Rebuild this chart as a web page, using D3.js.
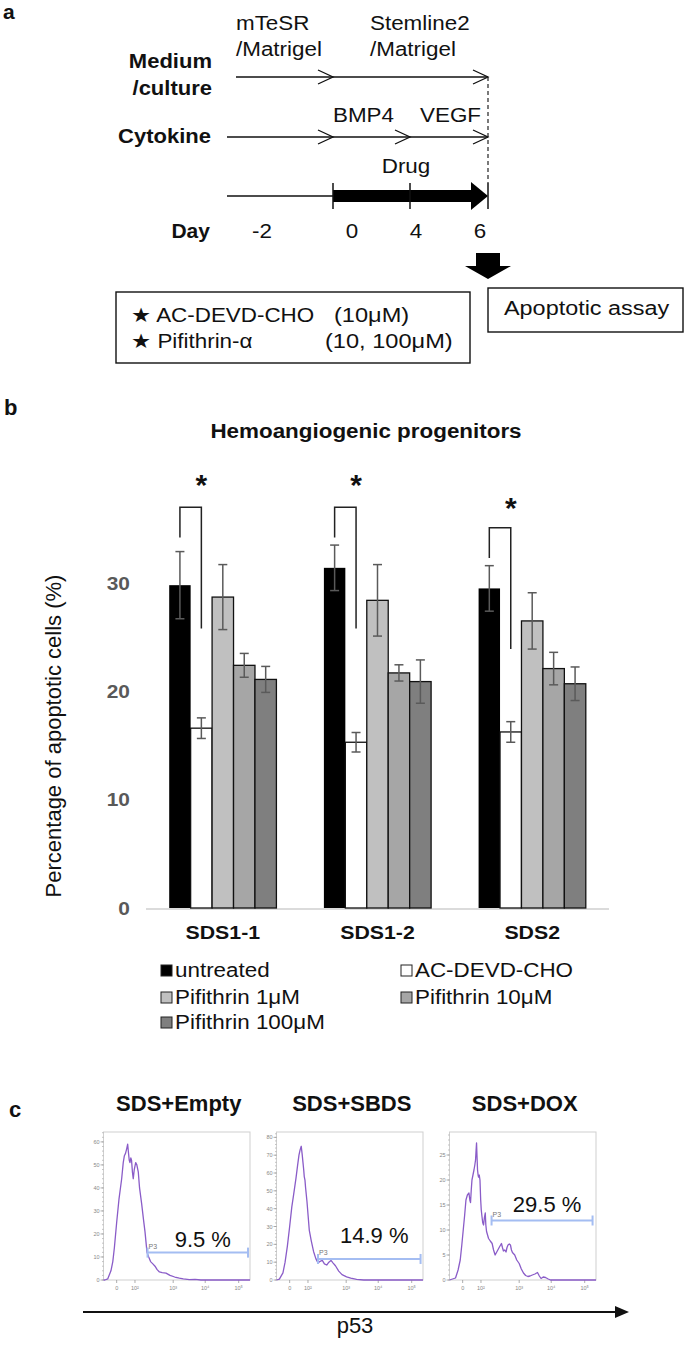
<!DOCTYPE html>
<html><head><meta charset="utf-8">
<script src="https://cdn.jsdelivr.net/npm/d3@7"></script>
<style>
body{margin:0;background:#fff}
svg{display:block}
text{font-family:"Liberation Sans",Arial,Helvetica,sans-serif}
</style>
</head><body>
<svg id="fig" width="685" height="1345"></svg>
<script>
// ================= DATA =================
// Panel a (protocol timeline)
const mediumLabels = [["mTeSR","/Matrigel"],["Stemline2","/Matrigel"]];
const cytokineLabels = ["BMP4","VEGF"];
const timelineDays = ["-2","0","4","6"];
const drugCompounds = [["★ AC-DEVD-CHO","(10μM)"],["★ Pifithrin-α","(10, 100μM)"]];
const assayLabel = "Apoptotic assay";

// Panel b (bar chart)
const categories = ["SDS1-1","SDS1-2","SDS2"];
const seriesNames = ["untreated","AC-DEVD-CHO","Pifithrin 1μM","Pifithrin 10μM","Pifithrin 100μM"];
const seriesColors = ["#000000","#ffffff","#c0c0c0","#a6a6a6","#7f7f7f"];
const untreated    = [29.8, 31.4, 29.5];
const untreatedErr = [3.1, 2.1, 2.1];
const acDevd       = [16.6, 15.3, 16.25];
const acDevdErr    = [0.95, 0.9, 0.95];
const pif1         = [28.7, 28.4, 26.5];
const pif1Err      = [3.0, 3.3, 2.6];
const pif10        = [22.4, 21.7, 22.1];
const pif10Err     = [1.1, 0.75, 1.5];
const pif100       = [21.1, 20.9, 20.7];
const pif100Err    = [1.2, 2.0, 1.55];
const yTicks = [0, 10, 20, 30];
const bracketTop      = [37.0, 37.0, 35.1];
const bracketLeftEnd  = [34.2, 34.2, 32.3];
const bracketRightEnd = [25.8, 25.8, 23.9];
const starLevel       = [39.7, 39.7, 37.6];

// Panel c (flow cytometry histograms), x in display channels 0..1024
const histTitles = ["SDS+Empty","SDS+SBDS","SDS+DOX"];
const histYMax = [64.3, 83, 29.6];
const histYTicks = [[0,10,20,30,40,50,60],[0,10,20,30,40,50,60,70,80],[0,5,10,15,20,25]];
const histXTickCh = [92, 220, 487, 711, 945];
const histXTickLabels = ["0","10²","10³","10⁴","10⁵"];
const histEmpty = [[0,0],[9,0],[30,0.5],[52,4],[65,8],[76,14],[92,25],[108,35],[127,44],[138,51],[146,54],[154,55],[162,57],[169,59],[175,55],[180,52],[185,51],[191,53],[196,52],[202,47],[208,44],[215,48],[225,51],[233,50],[243,47],[252,40],[267,33],[280,26],[290,21],[304,12],[316,10],[329,8],[345,7],[360,6],[375,4.5],[391,3.5],[410,3.2],[437,3],[465,2],[498,1.3],[530,0.8],[558,0.5],[600,0.2],[640,0.3],[681,0],[1024,0]];
const histSBDS = [[0,0],[20,0.5],[45,4],[60,10],[76,19],[92,30],[107,41],[120,48],[136,57],[147,64],[157,70],[165,73],[173,75],[180,70],[185,66],[190,62],[194,58],[199,56],[203,52],[213,44],[221,36],[229,28],[243,22],[259,16],[275,12],[290,9.5],[305,10.5],[320,11],[335,9],[351,8.4],[366,10],[381,11],[396,9.5],[412,8],[435,5],[458,3],[490,1.8],[519,1],[560,0.4],[610,0],[1024,0]];
const histDOX = [[0,0],[42,0.4],[60,2],[75,4],[86,7],[96,10],[106,13],[115,16],[125,17],[136,17.4],[142,16],[147,15.5],[152,18],[157,20],[164,21],[171,22],[177,23],[182,24],[186,26],[189,27.4],[192,25],[196,22],[200,21],[203,20.6],[208,21],[213,20],[218,16],[222,14],[227,12.7],[232,11.5],[238,11],[244,12.5],[250,13.4],[254,11],[259,9.7],[266,9],[273,8.3],[285,7.8],[298,7.3],[308,6],[319,5],[334,5.8],[349,6.6],[363,7.3],[370,6.5],[377,5.8],[386,6],[395,5.6],[402,6.5],[409,7],[418,7.2],[426,7],[433,6],[440,5.5],[456,5],[470,4],[487,3.3],[502,2.2],[517,1.4],[532,0.9],[548,0.7],[563,0.8],[579,1],[597,1.2],[615,1.5],[628,0.8],[640,0.3],[655,0.6],[671,0.5],[690,0.2],[706,0],[1024,0]];
const gateStart = [308, 290, 294];
const gateEnd   = [1010, 1007, 1000];
const gateLevel = [11.9, 11.8, 11.9];
const gatePct   = ["9.5 %","14.9 %","29.5 %"];
const pctLevel  = [14.3, 20.8, 13.6];
const xAxisLabel = "p53";

// ================= DRAWING =================
const svg = d3.select("#fig");
function txt(g, x, y, s, o = {}) {
  const t = g.append("text").attr("x", x).attr("y", y).text(s)
    .attr("font-size", o.size || 20)
    .attr("font-weight", o.bold ? "bold" : "normal")
    .attr("fill", o.fill || "#111")
    .attr("text-anchor", o.anchor || "start");
  if (o.stretch && o.stretch !== 1) {
    const L = t.node().getComputedTextLength();
    t.attr("textLength", L * o.stretch).attr("lengthAdjust", "spacingAndGlyphs");
  }
  return t;
}
const SA = 1.12; // horizontal text stretch in panels a/b

// ---------- Panel a ----------
const A = svg.append("g");
txt(A, 3, 19, "a", {size: 21, bold: true});
const dayX = d3.scaleOrdinal().domain(timelineDays).range([232, 333, 410, 488]);
const dayLabelX = d3.scaleOrdinal().domain(timelineDays).range([262, 352, 416, 480]);
const chevron = (g, x, y) => g.append("path")
  .attr("d", `M${x-15},${y-7}L${x},${y}L${x-15},${y+7}`)
  .attr("fill", "none").attr("stroke", "#111").attr("stroke-width", 1.3);
const rowMedium = 77, rowCyto = 137, rowDrug = 196;

// medium/culture row
txt(A, 212, 68, "Medium", {bold: true, anchor: "end", stretch: 1.1});
txt(A, 212, 95, "/culture", {bold: true, anchor: "end", stretch: 1.1});
A.append("line").attr("x1", dayX("-2") + 4).attr("x2", dayX("6")).attr("y1", rowMedium).attr("y2", rowMedium)
  .attr("stroke", "#111").attr("stroke-width", 1.3);
chevron(A, dayX("0"), rowMedium); chevron(A, dayX("6"), rowMedium);
const medLabelX = [236, 370];
mediumLabels.forEach((m, i) => {
  txt(A, medLabelX[i], 30, m[0], {stretch: SA});
  txt(A, medLabelX[i], 56, m[1], {stretch: SA});
});

// cytokine row
txt(A, 211, 143, "Cytokine", {bold: true, anchor: "end", stretch: 1.1});
A.append("line").attr("x1", dayX("-2") - 5).attr("x2", dayX("6")).attr("y1", rowCyto).attr("y2", rowCyto)
  .attr("stroke", "#111").attr("stroke-width", 1.3);
["0","4","6"].forEach(d => chevron(A, dayX(d), rowCyto));
txt(A, dayX("0"), 122, cytokineLabels[0], {stretch: SA});
txt(A, dayX("4") + 10, 122, cytokineLabels[1], {stretch: SA});

// drug row
txt(A, 406, 173, "Drug", {anchor: "middle", stretch: SA});
A.append("line").attr("x1", dayX("-2") - 5).attr("x2", dayX("0")).attr("y1", rowDrug).attr("y2", rowDrug)
  .attr("stroke", "#111").attr("stroke-width", 1.5);
A.append("rect").attr("x", dayX("0")).attr("y", rowDrug - 6).attr("width", dayX("6") - 16 - dayX("0")).attr("height", 12).attr("fill", "#000");
A.append("path").attr("d", `M${dayX("6")-17},${rowDrug-14}L${dayX("6")},${rowDrug}L${dayX("6")-17},${rowDrug+14}Z`).attr("fill", "#000");
["0","4","6"].forEach(d => A.append("line").attr("x1", dayX(d)).attr("x2", dayX(d))
  .attr("y1", rowDrug - 13).attr("y2", rowDrug + 13).attr("stroke", "#111").attr("stroke-width", 1.5));
A.append("line").attr("x1", dayX("6")).attr("x2", dayX("6")).attr("y1", rowMedium).attr("y2", rowDrug - 13)
  .attr("stroke", "#222").attr("stroke-width", 1.2).attr("stroke-dasharray", "4,3");

// day row
txt(A, 210, 238, "Day", {bold: true, anchor: "end", stretch: 1.05});
timelineDays.forEach(d => txt(A, dayLabelX(d), 238, d, {anchor: "middle", stretch: SA}));

// down arrow
const ax = dayX("6");
A.append("path").attr("d", `M${ax-12},253H${ax+12}V266H${ax+23}L${ax},279L${ax-23},266H${ax-12}Z`).attr("fill", "#000");

// boxes
A.append("rect").attr("x", 116).attr("y", 292).attr("width", 354).attr("height", 71)
  .attr("fill", "none").attr("stroke", "#111").attr("stroke-width", 1.4);
const compX2 = [334, 325], compY = [322, 348];
drugCompounds.forEach((c, i) => {
  txt(A, 131, compY[i], c[0], {stretch: SA});
  txt(A, compX2[i], compY[i], c[1], {stretch: 1.18});
});
A.append("rect").attr("x", 488).attr("y", 288).attr("width", 195).attr("height", 44)
  .attr("fill", "none").attr("stroke", "#111").attr("stroke-width", 1.4);
txt(A, 504, 315, assayLabel, {stretch: 1.17});

// ---------- Panel b ----------
const B = svg.append("g");
txt(B, 4, 415, "b", {size: 22, bold: true});
txt(B, 366, 438, "Hemoangiogenic progenitors", {bold: true, anchor: "middle", stretch: SA});

const seriesVals = [untreated, acDevd, pif1, pif10, pif100];
const seriesErr = [untreatedErr, acDevdErr, pif1Err, pif10Err, pif100Err];
const x0 = d3.scaleBand().domain(categories).range([146, 609]).paddingInner(0.307).paddingOuter(0.15);
const x1 = d3.scaleBand().domain(seriesNames).range([0, x0.bandwidth()]);
const y = d3.scaleLinear().domain([0, 30]).range([908, 583]);

// y tick labels
yTicks.forEach(t => txt(B, 130, y(t) + 6.5, String(t), {bold: true, anchor: "end", fill: "#595959", size: 19, stretch: 1.1}));
// y title
B.append("text").attr("transform", `translate(61,736) rotate(-90)`).attr("text-anchor", "middle")
  .attr("font-size", 22).attr("fill", "#111").text("Percentage of apoptotic cells (%)");

// baseline
B.append("line").attr("x1", 146).attr("x2", 609).attr("y1", y(0) + 1).attr("y2", y(0) + 1)
  .attr("stroke", "#cfcfcf").attr("stroke-width", 1.5);

const rows = [];
categories.forEach((c, ci) => seriesNames.forEach((s, si) =>
  rows.push({c, s, si, v: seriesVals[si][ci], e: seriesErr[si][ci]})));

B.selectAll("rect.bar").data(rows).join("rect").attr("class", "bar")
  .attr("x", d => x0(d.c) + x1(d.s)).attr("width", x1.bandwidth())
  .attr("y", d => y(d.v)).attr("height", d => y(0) - y(d.v))
  .attr("fill", d => seriesColors[d.si])
  .attr("stroke", d => d.si === 0 ? "none" : "#111").attr("stroke-width", 1.3);

const eb = B.selectAll("g.eb").data(rows).join("g").attr("class", "eb")
  .attr("stroke", "#5a5a5a").attr("stroke-width", 1.5);
eb.append("line").attr("x1", d => x0(d.c) + x1(d.s) + x1.bandwidth() / 2).attr("x2", d => x0(d.c) + x1(d.s) + x1.bandwidth() / 2)
  .attr("y1", d => y(d.v - d.e)).attr("y2", d => y(d.v + d.e));
[-1, 1].forEach(k => eb.append("line")
  .attr("x1", d => x0(d.c) + x1(d.s) + x1.bandwidth() / 2 - 4.5).attr("x2", d => x0(d.c) + x1(d.s) + x1.bandwidth() / 2 + 4.5)
  .attr("y1", d => y(d.v + k * d.e)).attr("y2", d => y(d.v + k * d.e)));

// significance brackets
categories.forEach((c, i) => {
  const xl = x0(c) + x1(seriesNames[0]) + x1.bandwidth() / 2;
  const xr = x0(c) + x1(seriesNames[1]) + x1.bandwidth() / 2;
  B.append("path").attr("d", `M${xl},${y(bracketLeftEnd[i])}V${y(bracketTop[i])}H${xr}V${y(bracketRightEnd[i])}`)
    .attr("fill", "none").attr("stroke", "#222").attr("stroke-width", 1.5);
  txt(B, xr, y(starLevel[i]) + 17, "*", {bold: true, size: 30, anchor: "middle"});
});

// category labels
categories.forEach(c => txt(B, x0(c) + x0.bandwidth() / 2, 939, c, {bold: true, size: 19, anchor: "middle", stretch: 1.12}));

// legend
const legCol = [161, 401], legRow = [977, 1004, 1029];
seriesNames.forEach((s, i) => {
  const lx = legCol[i % 2], ly = legRow[Math.floor(i / 2)];
  B.append("rect").attr("x", lx).attr("y", ly - 12).attr("width", 11).attr("height", 11)
    .attr("fill", seriesColors[i]).attr("stroke", "#222").attr("stroke-width", 1);
  txt(B, lx + 14, ly, s, {size: 20, stretch: 1.12});
});

// ---------- Panel c ----------
const C = svg.append("g");
txt(C, 9, 1117, "c", {size: 22, bold: true});
const hists = [histEmpty, histSBDS, histDOX];
const boxBand = d3.scaleBand().domain(histTitles).range([103.5, 596]).paddingInner(0.1532).paddingOuter(0);
const boxTop = 1132, boxBottom = 1280;

histTitles.forEach((title, i) => {
  const L = boxBand(title), W = boxBand.bandwidth();
  const xs = d3.scaleLinear().domain([0, 1024]).range([L, L + W]);
  const ys = d3.scaleLinear().domain([0, histYMax[i]]).range([boxBottom, boxTop]);
  const g = C.append("g");
  txt(g, L + W / 2 + 2, 1111, title, {bold: true, size: 22, anchor: "middle"});
  g.append("rect").attr("x", L).attr("y", boxTop).attr("width", W).attr("height", boxBottom - boxTop)
    .attr("fill", "none").attr("stroke", "#cfcfcf").attr("stroke-width", 1);
  // y ticks
  const yt = histYTicks[i], step = yt[1] - yt[0];
  const minor = d3.range(0, histYMax[i] + 0.001, step / 5);
  minor.forEach(m => g.append("line").attr("x1", L - 1.5).attr("x2", L).attr("y1", ys(m)).attr("y2", ys(m))
    .attr("stroke", "#aaa").attr("stroke-width", 0.7));
  yt.forEach(t => {
    g.append("line").attr("x1", L - 3).attr("x2", L).attr("y1", ys(t)).attr("y2", ys(t)).attr("stroke", "#999").attr("stroke-width", 0.8);
    txt(g, L - 4, ys(t) + 2, String(t), {size: 5.5, anchor: "end", fill: "#888"});
  });
  // x ticks
  histXTickCh.forEach((ch, k) => {
    g.append("line").attr("x1", xs(ch)).attr("x2", xs(ch)).attr("y1", boxBottom).attr("y2", boxBottom + 3).attr("stroke", "#999").attr("stroke-width", 0.8);
    txt(g, xs(ch), boxBottom + 10, histXTickLabels[k], {size: 5.5, anchor: "middle", fill: "#888"});
  });
  // curve
  g.append("path").datum(hists[i])
    .attr("d", d3.line().x(d => xs(d[0])).y(d => ys(d[1])))
    .attr("fill", "none").attr("stroke", "#8a5cc8").attr("stroke-width", 1.3).attr("stroke-linejoin", "round");
  // gate
  const gy = ys(gateLevel[i]), gx1 = xs(gateStart[i]), gx2 = xs(gateEnd[i]);
  const gg = g.append("g").attr("stroke", "#a4bdf2").attr("stroke-width", 2);
  gg.append("line").attr("x1", gx1).attr("x2", gx2).attr("y1", gy).attr("y2", gy);
  gg.append("line").attr("x1", gx1).attr("x2", gx1).attr("y1", gy - 5).attr("y2", gy + 5);
  gg.append("line").attr("x1", gx2).attr("x2", gx2).attr("y1", gy - 5).attr("y2", gy + 5);
  txt(g, gx1 + 1, gy - 4, "P3", {size: 7, fill: "#777"});
  txt(g, (gx1 + gx2) / 2 + 5, ys(pctLevel[i]), gatePct[i], {size: 22, anchor: "middle"});
});

// p53 axis arrow
C.append("line").attr("x1", 83).attr("x2", 617).attr("y1", 1312).attr("y2", 1312).attr("stroke", "#111").attr("stroke-width", 2);
C.append("path").attr("d", "M615,1306L629,1312L615,1318Z").attr("fill", "#111");
txt(C, 355, 1333, xAxisLabel, {size: 22, anchor: "middle"});
</script>
</body></html>
